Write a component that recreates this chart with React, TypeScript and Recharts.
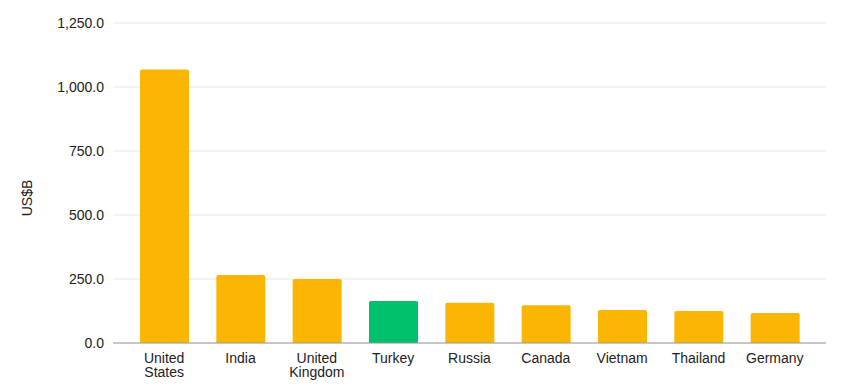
import { BarChart, Bar, XAxis, YAxis, CartesianGrid, Cell, Label } from "recharts";

const countries = ["United States", "India", "United Kingdom", "Turkey", "Russia", "Canada", "Vietnam", "Thailand", "Germany"];
const spending = [1068, 266, 250, 164, 157, 147, 129, 125, 117];
const highlighted = "Turkey";
const yTicks = [0, 250, 500, 750, 1000, 1250];

const BASE = "#fbb604";
const HIGHLIGHT = "#00c16b";
const FONT = "'Liberation Sans', Arial, sans-serif";

const data = countries.map((name, i) => ({ name, value: spending[i] }));

const fmt = (v: number) =>
  v.toLocaleString("en-US", { minimumFractionDigits: 1, maximumFractionDigits: 1 });

function CountryTick({ x, y, payload }: any) {
  const words = String(payload.value).split(" ");
  return (
    <text x={x} y={y} textAnchor="middle" fill="#222" fontSize={14} fontFamily={FONT}>
      {words.map((w, i) => (
        <tspan key={i} x={x} dy={i === 0 ? "0.71em" : 14}>
          {w}
        </tspan>
      ))}
    </text>
  );
}

function AxisTitle({ viewBox }: any) {
  const cx = viewBox.x + 32;
  const cy = viewBox.y + viewBox.height / 2 + 15;
  return (
    <text
      x={cx}
      y={cy}
      transform={`rotate(-90, ${cx}, ${cy})`}
      textAnchor="middle"
      fill="#222"
      fontSize={14}
      fontFamily={FONT}
    >
      US$B
    </text>
  );
}

export default function App() {
  return (
    <div style={{ margin: -8, width: 844, height: 392, background: "#fff" }}>
      <BarChart width={844} height={392} data={data} margin={{ top: 23, right: 18, left: 0, bottom: 0 }}>
        <CartesianGrid vertical={false} stroke="#e6e6e6" />
        <XAxis
          dataKey="name"
          interval={0}
          tickLine={false}
          axisLine={{ stroke: "#999" }}
          tickMargin={4}
          height={49}
          padding={{ left: 13, right: 13 }}
          tick={<CountryTick />}
        />
        <YAxis
          domain={[0, 1250]}
          ticks={yTicks}
          tickFormatter={fmt}
          tickLine={false}
          axisLine={false}
          tickMargin={3}
          width={113}
          tick={{ fill: "#222", fontSize: 14, fontFamily: FONT }}
        >
          <Label content={<AxisTitle />} />
        </YAxis>
        <Bar dataKey="value" barSize={49} radius={[2, 2, 0, 0]} isAnimationActive={false}>
          {data.map((d) => (
            <Cell key={d.name} fill={d.name === highlighted ? HIGHLIGHT : BASE} />
          ))}
        </Bar>
      </BarChart>
    </div>
  );
}
